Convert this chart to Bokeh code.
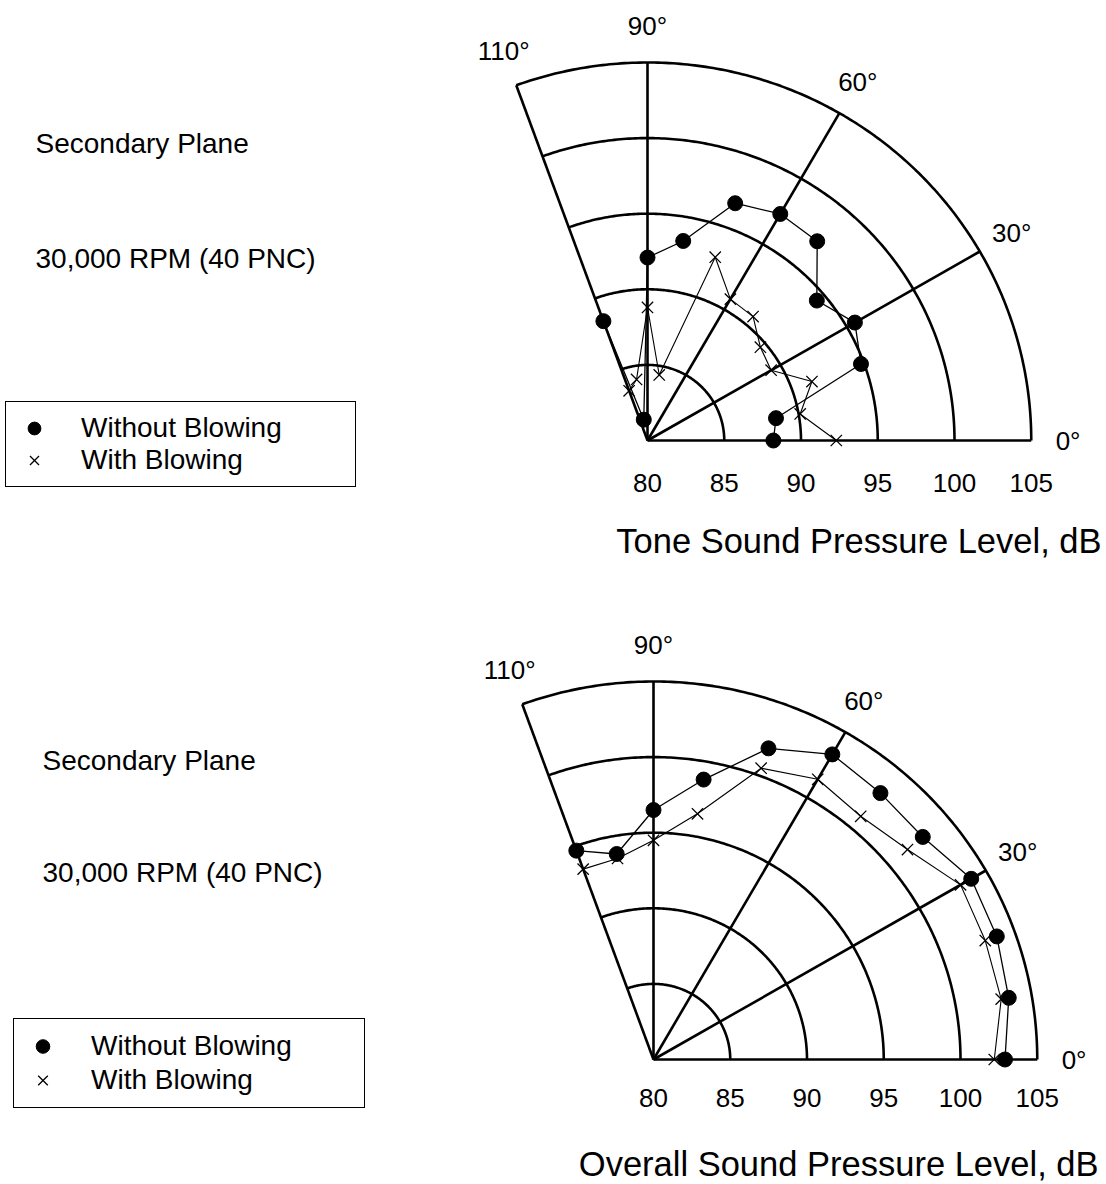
import numpy as np
from bokeh.plotting import figure
from bokeh.models import ColumnDataSource, Range1d, Legend, LegendItem
from bokeh.layouts import column
from bokeh.core.properties import value
from bokeh.embed import file_html
from bokeh.resources import INLINE

# ---------------- data ----------------
angles = [0, 10, 20, 30, 40, 50, 60, 70, 80, 90, 100, 110]
tone_without = [88.2, 88.5, 94.8, 95.6, 94.4, 97.2, 97.3, 96.7, 93.4, 92.1, 81.4, 88.4]
tone_with = [92.3, 90.1, 91.4, 89.3, 89.6, 90.7, 90.8, 92.9, 84.4, 88.8, 84.1, 83.5]
overall_without = [102.9, 103.5, 103.8, 103.9, 102.9, 103.0, 103.3, 101.9, 98.8, 96.5, 93.8, 94.7]
overall_with = [102.2, 103.0, 103.0, 103.1, 101.6, 101.0, 101.4, 100.5, 96.5, 94.5, 93.5, 93.4]

ring_levels = [85, 90, 95, 100, 105]
tick_levels = [80, 85, 90, 95, 100, 105]
ray_angles = [0, 30, 60, 90, 110]
ray_labels = ["0°", "30°", "60°", "90°", "110°"]
series_labels = ["Without Blowing", "With Blowing"]
note_lines = ["Secondary Plane", "30,000 RPM (40 PNC)"]
titles = ["Tone Sound Pressure Level, dB", "Overall Sound Pressure Level, dB"]

R0 = 80.0
RMAX = 105.0
ANG_MAX = 110.0
FONT = value("Liberation Sans")

W, H = 1106, 592
SX, SY = 15.35, 15.12   # px per dB horizontally / vertically


def polar(levels, angs):
    r = np.asarray(levels, dtype=float) - R0
    t = np.radians(np.asarray(angs, dtype=float))
    return r * np.cos(t), r * np.sin(t)


def make_chart(title, without, withb, cfg):
    ox, oy = cfg["origin"]

    def px(xp):
        return (xp - ox) / SX

    def py(yp):
        return (oy - yp) / SY

    p = figure(width=W, height=H, output_backend="svg", toolbar_location=None,
               x_range=Range1d(px(0), px(W)), y_range=Range1d(py(H), py(0)),
               x_axis_type=None, y_axis_type=None, min_border=0,
               outline_line_color=None, background_fill_color="white",
               border_fill_color="white")

    # rings
    t = np.radians(np.linspace(0, ANG_MAX, 200))
    xs_r, ys_r = [], []
    for lv in ring_levels:
        r = lv - R0
        xs_r.append(list(r * np.cos(t)))
        ys_r.append(list(r * np.sin(t)))
    p.multi_line(xs_r, ys_r, line_color="black", line_width=2.6)

    # rays
    xs_a, ys_a = [], []
    for a in ray_angles:
        ex, ey = polar([RMAX], [a])
        xs_a.append([0.0, float(ex[0])])
        ys_a.append([0.0, float(ey[0])])
    p.multi_line(xs_a, ys_a, line_color="black", line_width=2.6)

    # angle labels
    lx, ly = polar([RMAX + 2.4] * len(ray_angles), ray_angles)
    p.text(x=list(lx), y=list(ly), text=ray_labels, text_font=FONT,
           text_font_size="26px", text_align="center", text_baseline="middle",
           text_color="black")

    # radial tick labels
    tx = [lv - R0 for lv in tick_levels]
    p.text(x=tx, y=[0.0] * len(tx), text=[str(v) for v in tick_levels],
           text_font=FONT, text_font_size="26px", text_align="center",
           text_baseline="middle", y_offset=cfg["tick_off"], text_color="black")

    # title
    p.text(x=[px(cfg["title"][0])], y=[py(cfg["title"][1])], text=[title],
           text_font=FONT, text_font_size="34.5px", text_align="right",
           text_baseline="alphabetic", text_color="black")

    # notes
    p.text(x=[px(cfg["notes_x"])] * 2, y=[py(v) for v in cfg["notes_y"]],
           text=note_lines, text_font=FONT, text_font_size="28px",
           text_align="left", text_baseline="middle", text_color="black")

    # data
    x1, y1 = polar(without, angles)
    x2, y2 = polar(withb, angles)
    s1 = ColumnDataSource(dict(x=x1, y=y1))
    s2 = ColumnDataSource(dict(x=x2, y=y2))
    p.line("x", "y", source=s2, line_color="black", line_width=1.1)
    p.line("x", "y", source=s1, line_color="black", line_width=1.3)
    r2 = p.scatter("x", "y", source=s2, marker="x", size=16, line_color="black",
                   line_width=1.3)
    r1 = p.scatter("x", "y", source=s1, marker="circle", size=15,
                   fill_color="black", line_color="black")

    lg = cfg["legend"]
    legend = Legend(items=[LegendItem(label=series_labels[0], renderers=[r1]),
                           LegendItem(label=series_labels[1], renderers=[r2])],
                    location=lg["loc"], orientation="vertical",
                    label_text_font="Liberation Sans", label_text_font_size="28px",
                    label_text_color="black",
                    border_line_color="black", border_line_width=1.2,
                    border_line_alpha=1.0, background_fill_color="white",
                    background_fill_alpha=1.0, padding=10, spacing=0, margin=0,
                    glyph_width=lg["gw"], glyph_height=lg["rh"],
                    label_height=lg["rh"], label_standoff=lg["st"],
                    label_width=lg["lw"])
    p.add_layout(legend)
    return p


top_cfg = dict(origin=(647, 440), tick_off=42, title=(1101, 540),
               notes_x=35, notes_y=(143, 258),
               legend=dict(loc=(5, 105), gw=36, rh=32, st=29, lw=264))
bot_cfg = dict(origin=(653, 467), tick_off=38, title=(1098, 571),
               notes_x=42, notes_y=(168, 280),
               legend=dict(loc=(13, 76), gw=37, rh=34, st=30, lw=263))

p_top = make_chart(titles[0], tone_without, tone_with, top_cfg)
p_bot = make_chart(titles[1], overall_without, overall_with, bot_cfg)

layout = column(p_top, p_bot, spacing=0)
open("out.html", "w").write(file_html(layout, INLINE))
